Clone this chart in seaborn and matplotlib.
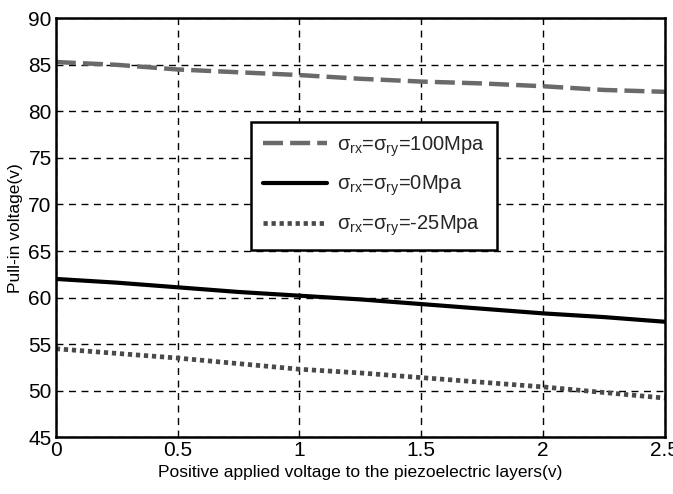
import matplotlib
matplotlib.use("Agg")
import matplotlib.pyplot as plt
import seaborn as sns
import pandas as pd

# Applied piezo voltage (V) and the resulting pull-in voltage for three residual stresses
applied_v = [0, 0.25, 0.5, 0.75, 1.0, 1.25, 1.5, 1.75, 2.0, 2.25, 2.5]
pullin_100 = [85.3, 85.0, 84.5, 84.2, 83.9, 83.5, 83.2, 83.0, 82.7, 82.3, 82.1]
pullin_0 = [62.0, 61.6, 61.1, 60.6, 60.2, 59.8, 59.3, 58.8, 58.3, 57.9, 57.4]
pullin_m25 = [54.5, 54.0, 53.5, 52.9, 52.3, 51.9, 51.4, 50.9, 50.4, 49.8, 49.2]

labels = [r"$\sigma_{rx}$=$\sigma_{ry}$=100Mpa",
          r"$\sigma_{rx}$=$\sigma_{ry}$=0Mpa",
          r"$\sigma_{rx}$=$\sigma_{ry}$=-25Mpa"]
x_ticks = [0, 0.5, 1, 1.5, 2, 2.5]
y_ticks = [45, 50, 55, 60, 65, 70, 75, 80, 85, 90]

sns.set_theme(style="white")
plt.rcParams["font.family"] = ["Liberation Sans", "DejaVu Sans"]
plt.rcParams["mathtext.fontset"] = "custom"
plt.rcParams["mathtext.rm"] = "Liberation Sans"
plt.rcParams["mathtext.it"] = "Liberation Sans"

df = pd.DataFrame({
    "x": applied_v * 3,
    "y": pullin_100 + pullin_0 + pullin_m25,
    "series": [labels[0]] * len(applied_v) + [labels[1]] * len(applied_v) + [labels[2]] * len(applied_v),
})

fig, ax = plt.subplots(figsize=(6.73, 4.94), dpi=100)
fig.subplots_adjust(left=0.083, right=0.988, top=0.963, bottom=0.115)

styles = {
    labels[0]: dict(color="#6a6a6a", linestyle=(0, (4.5, 1.6)), linewidth=3.2),
    labels[1]: dict(color="black", linestyle="-", linewidth=3.0),
    labels[2]: dict(color="#4a4a4a", linestyle=(0, (0.9, 0.8)), linewidth=3.4),
}
for lab in labels:
    sub = df[df["series"] == lab]
    sns.lineplot(data=sub, x="x", y="y", ax=ax, label=lab, **styles[lab])

ax.set_xlim(0, 2.5)
ax.set_ylim(45, 90)
ax.set_xticks(x_ticks)
ax.set_xticklabels(["0", "0.5", "1", "1.5", "2", "2.5"])
ax.set_yticks(y_ticks)
ax.grid(True, color="black", linestyle=(0, (5, 4)), linewidth=1.0)
for sp in ax.spines.values():
    sp.set_color("black")
    sp.set_linewidth(1.8)
ax.tick_params(axis="both", labelsize=15, colors="black", length=0, pad=3)
ax.set_xlabel("Positive applied voltage to the piezoelectric layers(v)", fontsize=12.5, color="black", labelpad=3)
ax.set_ylabel("Pull-in voltage(v)", fontsize=12.5, color="black", labelpad=4)

leg = ax.legend(loc="upper left", bbox_to_anchor=(0.32, 0.752), fontsize=14.5,
                frameon=True, fancybox=False, edgecolor="black", framealpha=1,
                handlelength=3.2, handletextpad=0.5, borderpad=0.6, labelspacing=0.75,
                borderaxespad=0)
leg.get_frame().set_linewidth(1.8)

fig.savefig("out.png", dpi=100)
